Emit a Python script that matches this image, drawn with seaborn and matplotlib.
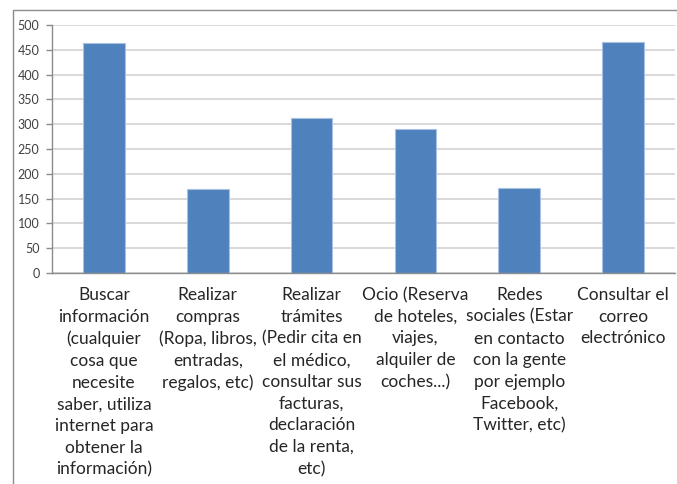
import matplotlib
matplotlib.use("Agg")
import matplotlib.pyplot as plt
import seaborn as sns
import pandas as pd
import numpy as np
from matplotlib.patches import Rectangle

# data
categories = [
    "Buscar\ninformación\n(cualquier\ncosa que\nnecesite\nsaber, utiliza\ninternet para\nobtener la\ninformación)",
    "Realizar\ncompras\n(Ropa, libros,\nentradas,\nregalos, etc)",
    "Realizar\ntrámites\n(Pedir cita en\nel médico,\nconsultar sus\nfacturas,\ndeclaración\nde la renta,\netc)",
    "Ocio (Reserva\nde hoteles,\nviajes,\nalquiler de\ncoches...)",
    "Redes\nsociales (Estar\nen contacto\ncon la gente\npor ejemplo\nFacebook,\nTwitter, etc)",
    "Consultar el\ncorreo\nelectrónico",
]
values = [464, 169, 313, 290, 171, 466]
yticks = [0, 50, 100, 150, 200, 250, 300, 350, 400, 450, 500]

df = pd.DataFrame({"cat": categories, "val": values})

sns.set_style("white")
plt.rcParams["font.family"] = ["Lato", "DejaVu Sans"]

fig = plt.figure(figsize=(6.77, 4.84), dpi=100)
ax = fig.add_axes([52 / 677, 1 - 273 / 484, 623 / 677, 248 / 484])

# outer chart border (right/bottom edges cropped off in the reference)
fig.patches.append(Rectangle((12.5 / 677, -0.1), 1.2, 1 - 10.5 / 484 + 0.1,
                             transform=fig.transFigure, fill=False,
                             edgecolor="#8c8c8c", linewidth=1.0))

sns.barplot(data=df, x="cat", y="val", color="#4f81bd", width=0.4,
            saturation=1, edgecolor="#a9c1e0", linewidth=0.8, ax=ax)

ax.set_xlim(-0.5, 5.5)
ax.set_ylim(0, 500)
ax.set_yticks(yticks)
ax.yaxis.grid(True, color="#d9d9d9", linewidth=1.4)
ax.set_axisbelow(True)
ax.set_xlabel("")
ax.set_ylabel("")

for s in ["top", "right"]:
    ax.spines[s].set_visible(False)
for s in ["left", "bottom"]:
    ax.spines[s].set_color("#8c8c8c")
    ax.spines[s].set_linewidth(1.0)

ax.set_xticks(np.arange(-0.5, 6, 1), minor=True)
ax.tick_params(axis="x", which="minor", length=4, color="#8c8c8c", width=1.0, direction="out")
ax.tick_params(axis="x", which="major", length=0, pad=10, labelsize=12.5, labelcolor="#262626")
ax.tick_params(axis="y", length=4, color="#8c8c8c", width=1.0, direction="out",
               labelsize=9, labelcolor="#404040", pad=5, left=True)
for lbl in ax.get_xticklabels():
    lbl.set_linespacing(1.44)
    lbl.set_ha("center")
    lbl.set_va("top")

fig.savefig("out.png", dpi=100)
